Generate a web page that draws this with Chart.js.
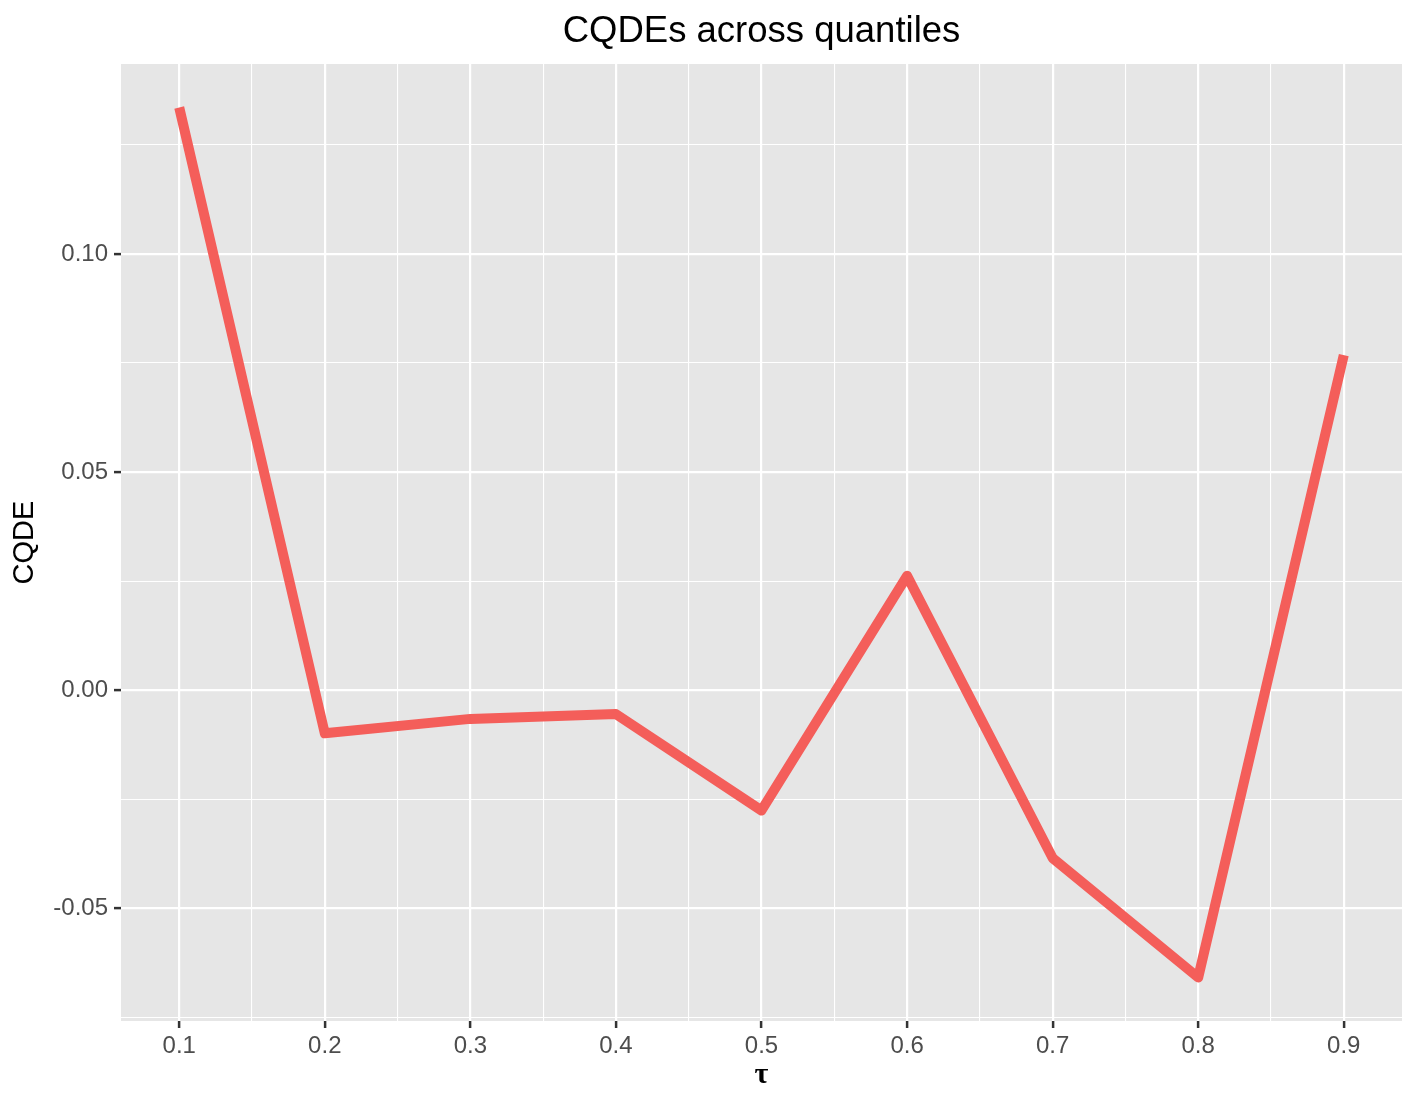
<!DOCTYPE html>
<html>
<head>
<meta charset="utf-8">
<script src="https://cdn.jsdelivr.net/npm/chart.js@4.4.1/dist/chart.umd.min.js"></script>
<style>
  html, body { margin: 0; padding: 0; background: #fff; }
  #wrap { width: 1417px; height: 1102px; }
</style>
</head>
<body>
<div id="wrap"><canvas id="cqdeChart" width="1417" height="1102"></canvas></div>
<script>
// quantiles and estimated CQDE values
const taus = [0.1, 0.2, 0.3, 0.4, 0.5, 0.6, 0.7, 0.8, 0.9];
const cqde = [0.1336, -0.0099, -0.0066, -0.0055, -0.0276, 0.0262, -0.0385, -0.0659, 0.0768];

// tick labels
const xTickValues = [0.1, 0.2, 0.3, 0.4, 0.5, 0.6, 0.7, 0.8, 0.9];
const xTickLabels = ['0.1', '0.2', '0.3', '0.4', '0.5', '0.6', '0.7', '0.8', '0.9'];
const yTickValues = [-0.05, 0, 0.05, 0.10];
const yTickLabels = ['-0.05', '0.00', '0.05', '0.10'];

const lineColor = 'rgb(244, 94, 90)';
const panelColor = '#E6E6E6';

// ggplot-like 5% expansion
function expand(vals) {
  const lo = Math.min(...vals), hi = Math.max(...vals);
  const pad = (hi - lo) * 0.05;
  return [lo - pad, hi + pad];
}
const [xMin, xMax] = expand(taus);
const [yMin, yMax] = expand(cqde);

// major ticks plus minor ticks half way between them (and one step beyond)
function withMinor(majors, labels, lo, hi) {
  const step = majors[1] - majors[0];
  const out = [];
  for (let i = -1; i < majors.length; i++) {
    if (i >= 0) out.push({ value: majors[i], label: labels[i], minor: false });
    const m = (i >= 0 ? majors[i] : majors[0] - step) + step / 2;
    if (m >= lo && m <= hi) out.push({ value: m, label: '', minor: true });
  }
  return out.filter(t => t.value >= lo && t.value <= hi).sort((a, b) => a.value - b.value);
}

const panelBg = {
  id: 'panelBg',
  beforeDraw(chart) {
    const { ctx, chartArea: a } = chart;
    ctx.save();
    ctx.fillStyle = panelColor;
    ctx.fillRect(a.left, a.top, a.right - a.left, a.bottom - a.top);
    ctx.restore();
  }
};

function gridOpts() {
  return {
    color: '#FFFFFF',
    lineWidth: c => (c.tick && c.tick.minor ? 1.1 : 2.2),
    tickColor: c => (c.tick && c.tick.minor ? 'rgba(0,0,0,0)' : '#333333'),
    tickWidth: 2.5,
    tickLength: 7,
    drawTicks: true
  };
}

const ctx = document.getElementById('cqdeChart').getContext('2d');
const chart = new Chart(ctx, {
  type: 'line',
  data: {
    datasets: [{
      data: taus.map((t, i) => ({ x: t, y: cqde[i] })),
      borderColor: lineColor,
      borderWidth: 10,
      borderJoinStyle: 'round',
      borderCapStyle: 'butt',
      pointRadius: 0,
      tension: 0,
      fill: false,
      clip: false
    }]
  },
  options: {
    responsive: false,
    animation: false,
    layout: { padding: { top: 0, right: 15, bottom: 0, left: 0 } },
    plugins: {
      legend: { display: false },
      tooltip: { enabled: false },
      title: {
        display: true,
        text: 'CQDEs across quantiles',
        color: '#000000',
        fullSize: false,
        font: { family: '"Liberation Sans", Arial, sans-serif', size: 36.5, weight: 'normal', lineHeight: 1.2 },
        padding: { top: 10, bottom: 10.2 }
      }
    },
    scales: {
      x: {
        type: 'linear',
        min: xMin,
        max: xMax,
        afterFit(scale) { scale.height = 81; },
        afterBuildTicks(scale) { scale.ticks = withMinor(xTickValues, xTickLabels, xMin, xMax); },
        border: { display: false },
        grid: gridOpts(),
        ticks: {
          autoSkip: false,
          maxRotation: 0,
          color: '#4D4D4D',
          padding: 4,
          font: { family: '"Liberation Sans", Arial, sans-serif', size: 24 },
          callback: (v, i, ticks) => ticks[i].label
        },
        title: {
          display: true,
          text: 'τ',
          color: '#000000',
          font: { family: '"Liberation Serif", "DejaVu Serif", serif', size: 30, weight: 'bold', lineHeight: 1.2 },
          padding: { top: 0, bottom: 9 }
        }
      },
      y: {
        type: 'linear',
        min: yMin,
        max: yMax,
        afterFit(scale) { scale.width = 121; },
        afterBuildTicks(scale) { scale.ticks = withMinor(yTickValues, yTickLabels, yMin, yMax); },
        border: { display: false },
        grid: gridOpts(),
        ticks: {
          autoSkip: false,
          color: '#4D4D4D',
          padding: 6,
          font: { family: '"Liberation Sans", Arial, sans-serif', size: 24 },
          callback: (v, i, ticks) => ticks[i].label
        },
        title: {
          display: true,
          text: 'CQDE',
          color: '#000000',
          font: { family: '"Liberation Sans", Arial, sans-serif', size: 29, weight: 'normal', lineHeight: 1.2 },
          padding: { top: 7.6, bottom: 0 }
        }
      }
    }
  },
  plugins: [panelBg]
});
</script>
</body>
</html>
